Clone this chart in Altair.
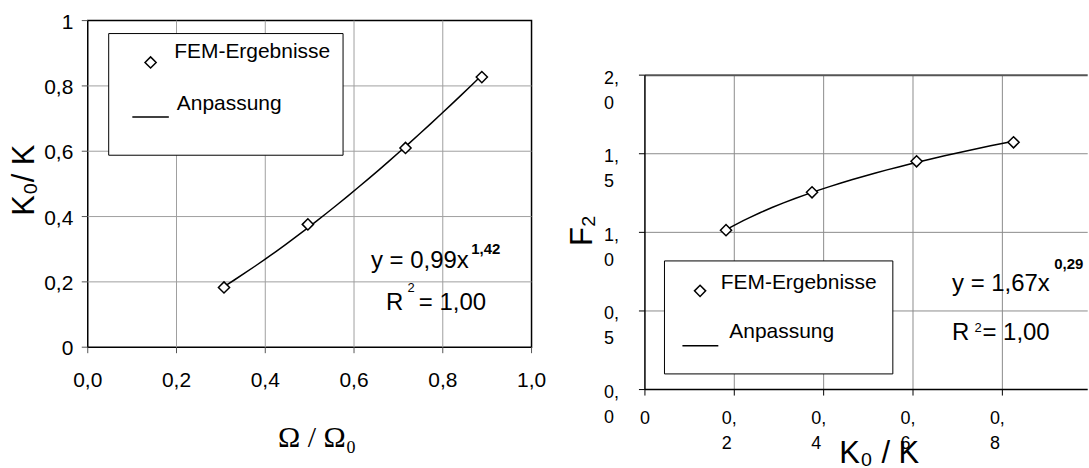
import altair as alt
import pandas as pd

# ---------------- data ----------------
series_names = ["FEM-Ergebnisse", "Anpassung"]

# left panel: K0/K over Omega/Omega0
omega_ratio = [0.307, 0.496, 0.716, 0.888]
k_ratio_left = [0.183, 0.376, 0.610, 0.827]

# right panel: F2 over K0/K
k_ratio_right = [0.1815, 0.374, 0.608, 0.825]
f2_values = [1.014, 1.255, 1.452, 1.573]

left_x_ticks = [0.0, 0.2, 0.4, 0.6, 0.8, 1.0]
left_y_ticks = [0.0, 0.2, 0.4, 0.6, 0.8, 1.0]
right_x_ticks = [0.0, 0.2, 0.4, 0.6, 0.8]
right_y_ticks = [0.0, 0.5, 1.0, 1.5, 2.0]

left_x_title, left_y_title = "Ω / Ω₀", "K₀/ K"
right_x_title, right_y_title = "K₀ / K", "F₂"
left_eq, left_exp = "y = 0,99x", "1,42"
right_eq, right_exp = "y = 1,67x", "0,29"
r2_lhs, r2_sup, r2_rhs = "R", "2", "= 1,00"

SANS = "Liberation Sans"
SERIF = "Liberation Serif"
GRID_L = "#a0a0a0"
GRID_R = "#8c8c8c"
TICK = "#555555"

one = alt.Data(values=[{}])


def comma(v):
    return f"{v:.1f}".replace(".", ",")


def wrapped(v):
    whole, frac = f"{v:.1f}".split(".")
    return f"{whole},\n{frac}"


def note(txt, px, py, size, bold=False, font=SANS, align="left", baseline="alphabetic", angle=0):
    return alt.Chart(one).mark_text(
        text=txt, font=font, fontSize=size, fontWeight="bold" if bold else "normal",
        align=align, baseline=baseline, color="black", angle=angle
    ).encode(x=alt.value(px), y=alt.value(py))


def box(x0, x1, y0, y1):
    return alt.Chart(one).mark_rect(fill="white", stroke="black", strokeWidth=1).encode(
        x=alt.value(x0), x2=alt.value(x1), y=alt.value(y0), y2=alt.value(y1))


def key_diamond(px, py):
    return alt.Chart(one).mark_point(
        shape="diamond", size=125, filled=True, fill="white", stroke="black",
        strokeWidth=1.5, opacity=1
    ).encode(x=alt.value(px), y=alt.value(py))


def key_line(x0, x1, py):
    return alt.Chart(one).mark_rule(color="black", strokeWidth=1.5).encode(
        x=alt.value(x0), x2=alt.value(x1), y=alt.value(py))


def xticks(ticks, scale, y0, y1, color):
    return alt.Chart(pd.DataFrame({"v": ticks})).mark_rule(color=color, strokeWidth=1).encode(
        x=alt.X("v:Q", scale=scale, axis=None), y=alt.value(y0), y2=alt.value(y1))


def yticks(ticks, scale, x0, x1, color):
    return alt.Chart(pd.DataFrame({"v": ticks})).mark_rule(color=color, strokeWidth=1).encode(
        y=alt.Y("v:Q", scale=scale, axis=None), x=alt.value(x0), x2=alt.value(x1))


# ---------------- left panel ----------------
LW, LH = 445, 327.5
left_df = pd.DataFrame({"x": omega_ratio, "y": k_ratio_left})
lxs = alt.Scale(domain=[0, 1], nice=False)
lys = alt.Scale(domain=[0, 1], nice=False)

left_vgrid = alt.Chart(pd.DataFrame({"v": left_x_ticks[1:-1]})).mark_rule(
    color=GRID_L, strokeWidth=1).encode(x=alt.X("v:Q", scale=lxs, axis=None))
left_hgrid = alt.Chart(pd.DataFrame({"v": left_y_ticks[1:-1]})).mark_rule(
    color=GRID_L, strokeWidth=1).encode(y=alt.Y("v:Q", scale=lys, axis=None))

left_xlab = alt.Chart(pd.DataFrame({"v": left_x_ticks, "label": [comma(v) for v in left_x_ticks]})
                      ).mark_text(font=SANS, fontSize=21, color="black", align="center",
                                  baseline="top").encode(
    x=alt.X("v:Q", scale=lxs, axis=None), y=alt.value(LH + 22.5), text="label:N")
left_ylab = alt.Chart(pd.DataFrame({
    "v": left_y_ticks,
    "label": ["0" if v == 0 else "1" if v == 1 else comma(v) for v in left_y_ticks]})
).mark_text(font=SANS, fontSize=21, color="black", align="right", baseline="middle", dy=2).encode(
    y=alt.Y("v:Q", scale=lys, axis=None), x=alt.value(-14.5), text="label:N")

left_points = alt.Chart(left_df).mark_point(
    shape="diamond", size=125, filled=True, fill="white", stroke="black", strokeWidth=1.5, opacity=1
).encode(x=alt.X("x:Q", scale=lxs, axis=None), y=alt.Y("y:Q", scale=lys, axis=None))
left_fit = alt.Chart(left_df).transform_regression("x", "y", method="pow").mark_line(
    color="black", strokeWidth=1.5
).encode(x=alt.X("x:Q", scale=lxs, axis=None), y=alt.Y("y:Q", scale=lys, axis=None))

left = alt.layer(
    left_vgrid, left_hgrid,
    xticks(left_x_ticks, lxs, LH, LH + 6, TICK), yticks(left_y_ticks, lys, -6, 0, TICK),
    left_xlab, left_ylab,
    note(left_x_title, 230, 428, 30, font=SERIF, align="center"),
    note(left_y_title, -63, 160, 31, align="center", baseline="middle", angle=270),
    box(21, 256, 13, 135), key_diamond(63, 42), key_line(44.7, 81.3, 96.7),
    note(series_names[0], 86.7, 37.3, 21), note(series_names[1], 89.3, 90, 21),
    left_fit, left_points,
    note(left_eq, 284, 248, 24), note(left_exp, 384.5, 234, 15, True),
    note(r2_lhs, 299, 290, 24), note(r2_sup, 320.5, 272, 13), note(r2_rhs, 332, 290, 24),
).properties(width=LW, height=LH,
             view=alt.ViewBackground(stroke="black", strokeWidth=1.5))

# ---------------- right panel ----------------
RW, RH = 444, 370
right_df = pd.DataFrame({"x": k_ratio_right, "y": f2_values})
rxs = alt.Scale(domain=[0, 0.991], nice=False)
rys = alt.Scale(domain=[0, 2], range=[370, 54.7], nice=False)

right_hgrid = alt.Chart(pd.DataFrame({"v": right_y_ticks[1:-1]})).mark_rule(
    color=GRID_R, strokeWidth=1).encode(y=alt.Y("v:Q", scale=rys, axis=None))
right_vgrid = alt.Chart(pd.DataFrame({"v": right_x_ticks[1:]})).mark_rule(
    color=GRID_R, strokeWidth=1).encode(
    x=alt.X("v:Q", scale=rxs, axis=None),
    y=alt.YDatum(right_y_ticks[0], scale=rys, axis=None), y2=alt.Y2Datum(right_y_ticks[-1]))
right_top = alt.Chart(one).mark_rule(color="#555555", strokeWidth=2).encode(
    y=alt.YDatum(right_y_ticks[-1], scale=rys, axis=None))
right_yaxis = alt.Chart(one).mark_rule(color="black", strokeWidth=1.5).encode(
    x=alt.XDatum(0, scale=rxs, axis=None),
    y=alt.YDatum(right_y_ticks[0], scale=rys, axis=None), y2=alt.Y2Datum(right_y_ticks[-1]))
right_xaxis = alt.Chart(one).mark_rule(color="black", strokeWidth=1.5).encode(
    y=alt.YDatum(0, scale=rys, axis=None))

lab_style = dict(font=SANS, fontSize=18, color="black", lineBreak="\n", lineHeight=25,
                 baseline="top")
right_xlabels = alt.Chart(pd.DataFrame({
    "v": right_x_ticks[1:], "label": [wrapped(v) for v in right_x_ticks[1:]]})
).mark_text(align="left", dx=-12.5, **lab_style).encode(
    x=alt.X("v:Q", scale=rxs, axis=None), y=alt.value(RH + 20.4), text="label:N")
right_xzero = alt.Chart(pd.DataFrame({"v": right_x_ticks[:1], "label": ["0"]})
                        ).mark_text(align="center", **lab_style).encode(
    x=alt.X("v:Q", scale=rxs, axis=None), y=alt.value(RH + 20.4), text="label:N")
right_ylabels = alt.Chart(pd.DataFrame({
    "v": right_y_ticks, "label": [wrapped(v) for v in right_y_ticks]})
).mark_text(align="left", dy=-5.5, **lab_style).encode(
    x=alt.value(-41), y=alt.Y("v:Q", scale=rys, axis=None), text="label:N")

right_points = alt.Chart(right_df).mark_point(
    shape="diamond", size=125, filled=True, fill="white", stroke="black", strokeWidth=1.5, opacity=1
).encode(x=alt.X("x:Q", scale=rxs, axis=None), y=alt.Y("y:Q", scale=rys, axis=None))
right_fit = alt.Chart(right_df).transform_regression("x", "y", method="pow").mark_line(
    color="black", strokeWidth=1.5
).encode(x=alt.X("x:Q", scale=rxs, axis=None), y=alt.Y("y:Q", scale=rys, axis=None))

right = alt.layer(
    right_hgrid, right_vgrid, right_top,
    xticks(right_x_ticks, rxs, RH, RH + 6, "black"), yticks(right_y_ticks, rys, -6, 0, "black"),
    right_yaxis, right_xaxis,
    right_xlabels, right_xzero, right_ylabels,
    note(right_x_title, 235, 451, 31, align="center", baseline="bottom"),
    note(right_y_title, -62, 210.6, 31, align="center", baseline="middle", angle=270),
    box(19.6, 248.6, 241, 354.3), key_diamond(55.3, 271), key_line(37.6, 73.6, 326),
    note(series_names[0], 76, 269.3, 21), note(series_names[1], 84.6, 318.3, 21),
    right_fit, right_points,
    note(right_eq, 308, 271, 24), note(right_exp, 410.5, 249, 15, True),
    note(r2_lhs, 308, 320, 24), note(r2_sup, 330.5, 312.5, 13), note(r2_rhs, 338.5, 320, 24),
).properties(width=RW, height=RH,
             view=alt.ViewBackground(strokeOpacity=0))

chart = alt.hconcat(left, right, spacing=113.7, bounds="flush").properties(
    padding={"left": 8, "top": 10, "right": 0, "bottom": 0}
).configure(background="white")

chart.save("out.html", embed_options={"renderer": "svg", "actions": False})
